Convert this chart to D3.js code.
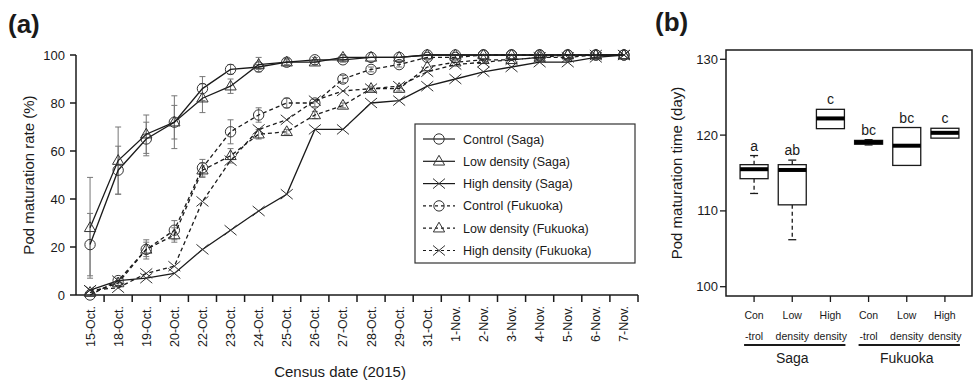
<!DOCTYPE html>
<html>
<head>
<meta charset="utf-8">
<script src="https://cdnjs.cloudflare.com/ajax/libs/d3/7.8.5/d3.min.js"></script>
<style>
  body { margin: 0; background: #fff; }
  svg { font-family: "Liberation Sans", Arial, sans-serif; }
</style>
</head>
<body>
<svg id="chart" width="977" height="383"></svg>
<script>
// ---- panel (a) data: pod maturation rate (%) by census date ----
const dates = ['15-Oct.','18-Oct.','19-Oct.','20-Oct.','22-Oct.','23-Oct.','24-Oct.','25-Oct.','26-Oct.',
  '27-Oct.','28-Oct.','29-Oct.','31-Oct.','1-Nov.','2-Nov.','3-Nov.','4-Nov.','5-Nov.','6-Nov.','7-Nov.'];
const ctrlSaga  = [21, 52, 65, 72, 86, 94, 95, 97, 98, 98, 99, 99, 100, 100, 100, 100, 100, 100, 100, 100];
const lowSaga   = [28, 56, 67, 72, 82, 87, 96, 97, 97, 99, 99, 99, 100, 100, 100, 100, 100, 100, 100, 100];
const highSaga  = [2, 6, 7, 9, 19, 27, 35, 42, 69, 69, 80, 81, 87, 90, 93, 95, 97, 97, 99, 100];
const ctrlFuk   = [0, 6, 19, 27, 53, 68, 75, 80, 80, 90, 94, 96, 99, 99, 100, 100, 100, 100, 100, 100];
const lowFuk    = [1, 5, 19, 25, 52, 58, 67, 68, 75, 79, 86, 86, 95, 97, 98, 98, 99, 100, 100, 100];
const highFuk   = [2, 3, 9, 12, 39, 56, 69, 73, 81, 85, 86, 87, 93, 96, 97, 98, 99, 99, 100, 100];
// standard errors
const ctrlSagaSE = [13, 10, 7, 11, 5, 2, 1, 1, 1, 1, 0.5, 0.5, 0, 0, 0, 0, 0, 0, 0, 0];
const lowSagaSE  = [21, 14, 8, 7, 6, 3, 3, 1.5, 1, 1, 0.5, 0.5, 0, 0, 0, 0, 0, 0, 0, 0];
const ctrlFukSE  = [0, 1, 4, 4, 3.5, 5, 3, 2, 1.5, 1.5, 1, 1, 0.5, 0.5, 0, 0, 0, 0, 0, 0];
const lowFukSE   = [0.5, 1, 3, 3, 3, 3, 2, 1, 1.5, 1, 1, 1, 0.5, 0.5, 0, 0, 0, 0, 0, 0];
const yTicksA = [0, 20, 40, 60, 80, 100];

// ---- panel (b) data: pod maturation time (day) ----
const boxTop    = ['Con', 'Low', 'High', 'Con', 'Low', 'High'];
const boxBottom = ['-trol', 'density', 'density', '-trol', 'density', 'density'];
const boxQ1     = [114.25, 110.8, 120.85, 118.8, 116.0, 119.6];
const boxMed    = [115.5, 115.4, 122.2, 119.05, 118.6, 120.3];
const boxQ3     = [116.1, 116.1, 123.4, 119.3, 121.0, 120.9];
const boxLo     = [112.3, 106.2, 120.85, 118.7, 116.0, 119.6];
const boxHi     = [117.3, 116.7, 123.4, 119.4, 121.0, 120.9];
const boxLetter = ['a', 'ab', 'c', 'bc', 'bc', 'c'];
const sites     = ['Saga', 'Fukuoka'];
const yTicksB   = [100, 110, 120, 130];

const svg = d3.select('#chart');
const ink = '#1a1a1a';

// =============== panel (a) ===============
const x = d3.scaleBand().domain(dates).range([76, 638]);
const y = d3.scaleLinear().domain([0, 100]).range([295, 55]);
const gA = svg.append('g');

gA.append('text').attr('x', 8).attr('y', 33).attr('font-size', 26).attr('font-weight', 'bold')
  .attr('fill', ink).text('(a)');

// y axis
gA.append('line').attr('x1', 76).attr('x2', 76).attr('y1', y(100)).attr('y2', y(0))
  .attr('stroke', ink).attr('stroke-width', 1.5);
yTicksA.forEach(t => {
  gA.append('line').attr('x1', 70).attr('x2', 76).attr('y1', y(t)).attr('y2', y(t))
    .attr('stroke', ink).attr('stroke-width', 1.5);
  gA.append('text').attr('x', 65).attr('y', y(t) + 4.5).attr('text-anchor', 'end')
    .attr('font-size', 13).attr('fill', ink).text(t);
});
gA.append('text').attr('transform', 'translate(34,175) rotate(-90)').attr('text-anchor', 'middle')
  .attr('font-size', 15).attr('fill', ink).text('Pod maturation rate (%)');

// x axis
gA.append('line').attr('x1', 76).attr('x2', 638).attr('y1', 295).attr('y2', 295)
  .attr('stroke', ink).attr('stroke-width', 1.5);
dates.forEach((d, i) => {
  gA.append('line').attr('x1', x(d) + x.bandwidth()).attr('x2', x(d) + x.bandwidth())
    .attr('y1', 295).attr('y2', 302).attr('stroke', ink).attr('stroke-width', 1.5);
  gA.append('text')
    .attr('transform', 'translate(' + (x(d) + x.bandwidth() / 2 + 4.5) + ',306) rotate(-90)')
    .attr('text-anchor', 'end').attr('font-size', 12.5).attr('fill', ink).text(d);
});
gA.append('text').attr('x', 340).attr('y', 377).attr('text-anchor', 'middle')
  .attr('font-size', 15).attr('fill', ink).text('Census date (2015)');

const cx = d => x(d) + x.bandwidth() / 2;

function marker(g, type, px, py) {
  const s = '#333';
  if (type === 'circle') {
    g.append('circle').attr('cx', px).attr('cy', py).attr('r', 5.2)
      .attr('fill', 'none').attr('stroke', s).attr('stroke-width', 1);
  } else if (type === 'triangle') {
    g.append('path').attr('d', d3.symbol(d3.symbolTriangle, 55)())
      .attr('transform', 'translate(' + px + ',' + (py + 0.5) + ')')
      .attr('fill', 'none').attr('stroke', s).attr('stroke-width', 1);
  } else {
    g.append('path').attr('d', 'M-6,-5L6,5M-6,5L6,-5')
      .attr('transform', 'translate(' + px + ',' + py + ')')
      .attr('fill', 'none').attr('stroke', s).attr('stroke-width', 1);
  }
}

const series = [
  { name: 'Control (Saga)', vals: ctrlSaga, se: ctrlSagaSE, mk: 'circle', dash: null },
  { name: 'Low density (Saga)', vals: lowSaga, se: lowSagaSE, mk: 'triangle', dash: null },
  { name: 'High density (Saga)', vals: highSaga, se: null, mk: 'x', dash: null },
  { name: 'Control (Fukuoka)', vals: ctrlFuk, se: ctrlFukSE, mk: 'circle', dash: '4,3' },
  { name: 'Low density (Fukuoka)', vals: lowFuk, se: lowFukSE, mk: 'triangle', dash: '4,3' },
  { name: 'High density (Fukuoka)', vals: highFuk, se: null, mk: 'x', dash: '4,3' }
];

// error bars
series.forEach(s => {
  if (!s.se) return;
  s.vals.forEach((v, i) => {
    if (s.se[i] < 1) return;
    const px = cx(dates[i]);
    const g = gA.append('g').attr('stroke', '#777').attr('stroke-width', 1);
    g.append('line').attr('x1', px).attr('x2', px).attr('y1', y(v - s.se[i])).attr('y2', y(v + s.se[i]));
    g.append('line').attr('x1', px - 3).attr('x2', px + 3).attr('y1', y(v - s.se[i])).attr('y2', y(v - s.se[i]));
    g.append('line').attr('x1', px - 3).attr('x2', px + 3).attr('y1', y(v + s.se[i])).attr('y2', y(v + s.se[i]));
  });
});

const line = d3.line().x((v, i) => cx(dates[i])).y(v => y(v));
series.forEach(s => {
  gA.append('path').datum(s.vals).attr('d', line).attr('fill', 'none')
    .attr('stroke', ink).attr('stroke-width', 1.3)
    .attr('stroke-dasharray', s.dash);
  s.vals.forEach((v, i) => marker(gA, s.mk, cx(dates[i]), y(v)));
});

// legend
const lg = gA.append('g');
lg.append('rect').attr('x', 415).attr('y', 124).attr('width', 220).attr('height', 139)
  .attr('fill', '#fff').attr('stroke', '#333').attr('stroke-width', 1.2);
series.forEach((s, i) => {
  const ly = 139 + i * 22.3;
  lg.append('line').attr('x1', 423).attr('x2', 455).attr('y1', ly).attr('y2', ly)
    .attr('stroke', ink).attr('stroke-width', 1.2).attr('stroke-dasharray', s.dash ? '3,3' : null);
  marker(lg, s.mk, 439, ly);
  lg.append('text').attr('x', 463).attr('y', ly + 4.5).attr('font-size', 12.5).attr('fill', ink).text(s.name);
});

// =============== panel (b) ===============
const gB = svg.append('g');
const xb = d3.scaleBand().domain(d3.range(6)).range([735, 964]);
const yb = d3.scaleLinear().domain([100, 130]).range([286.7, 59.3]);
const bx = i => xb(i) + xb.bandwidth() / 2;

gB.append('text').attr('x', 655).attr('y', 31).attr('font-size', 26).attr('font-weight', 'bold')
  .attr('fill', ink).text('(b)');

gB.append('rect').attr('x', 726).attr('y', 50).attr('width', 246).attr('height', 246)
  .attr('fill', 'none').attr('stroke', ink).attr('stroke-width', 1.5);
yTicksB.forEach(t => {
  gB.append('line').attr('x1', 720).attr('x2', 726).attr('y1', yb(t)).attr('y2', yb(t))
    .attr('stroke', ink).attr('stroke-width', 1.3);
  gB.append('text').attr('x', 718).attr('y', yb(t) + 4.5).attr('text-anchor', 'end')
    .attr('font-size', 13).attr('fill', ink).text(t);
});
gB.append('text').attr('transform', 'translate(682,173) rotate(-90)').attr('text-anchor', 'middle')
  .attr('font-size', 15).attr('fill', ink).text('Pod maturation time (day)');

d3.range(6).forEach(i => {
  const px = bx(i), hw = 14;
  // whiskers
  const wg = gB.append('g').attr('stroke', ink).attr('stroke-width', 1.3);
  if (boxHi[i] > boxQ3[i]) {
    wg.append('line').attr('x1', px).attr('x2', px).attr('y1', yb(boxQ3[i])).attr('y2', yb(boxHi[i])).attr('stroke-dasharray', '4,3');
    wg.append('line').attr('x1', px - 4).attr('x2', px + 4).attr('y1', yb(boxHi[i])).attr('y2', yb(boxHi[i]));
  }
  if (boxLo[i] < boxQ1[i]) {
    wg.append('line').attr('x1', px).attr('x2', px).attr('y1', yb(boxQ1[i])).attr('y2', yb(boxLo[i])).attr('stroke-dasharray', '4,3');
    wg.append('line').attr('x1', px - 4).attr('x2', px + 4).attr('y1', yb(boxLo[i])).attr('y2', yb(boxLo[i]));
  }
  gB.append('rect').attr('x', px - hw).attr('width', hw * 2)
    .attr('y', yb(boxQ3[i])).attr('height', yb(boxQ1[i]) - yb(boxQ3[i]))
    .attr('fill', '#fff').attr('stroke', ink).attr('stroke-width', 1.3);
  gB.append('line').attr('x1', px - hw).attr('x2', px + hw).attr('y1', yb(boxMed[i])).attr('y2', yb(boxMed[i]))
    .attr('stroke', '#000').attr('stroke-width', 4);
  gB.append('text').attr('x', px).attr('y', yb(boxHi[i]) - 5).attr('text-anchor', 'middle')
    .attr('font-size', 14).attr('fill', ink).text(boxLetter[i]);
  // x ticks and labels
  gB.append('line').attr('x1', px).attr('x2', px).attr('y1', 296).attr('y2', 302)
    .attr('stroke', ink).attr('stroke-width', 1.3);
  gB.append('text').attr('x', px).attr('y', 319).attr('text-anchor', 'middle')
    .attr('font-size', 10.5).attr('fill', ink).text(boxTop[i]);
  gB.append('text').attr('x', px).attr('y', 340).attr('text-anchor', 'middle')
    .attr('font-size', 10.5).attr('fill', ink).text(boxBottom[i]);
});

sites.forEach((s, k) => {
  const x1 = bx(k * 3) - 10, x2 = bx(k * 3 + 2) + 15;
  gB.append('line').attr('x1', x1).attr('x2', x2).attr('y1', 345).attr('y2', 345)
    .attr('stroke', ink).attr('stroke-width', 2);
  gB.append('text').attr('x', bx(k * 3 + 1)).attr('y', 363).attr('text-anchor', 'middle')
    .attr('font-size', 14).attr('fill', ink).text(s);
});
</script>
</body>
</html>
